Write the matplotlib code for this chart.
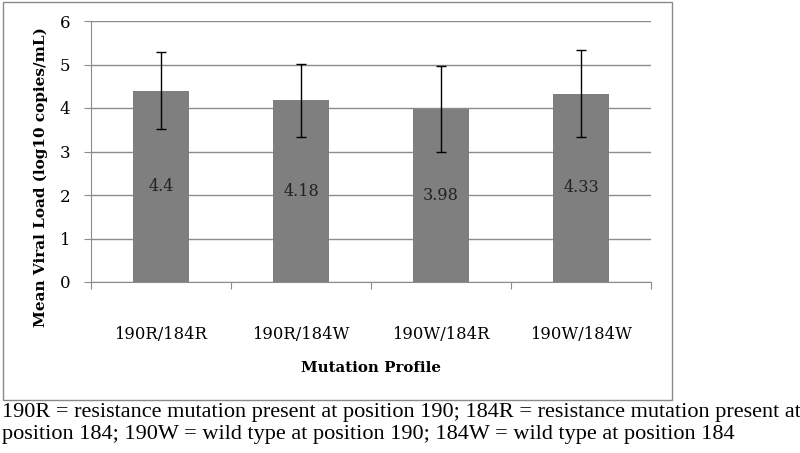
import numpy as np
import matplotlib
matplotlib.use("Agg")
from matplotlib import pyplot as plt
from matplotlib.patches import Rectangle

profiles = ["190R/184R", "190R/184W", "190W/184R", "190W/184W"]
means = [4.4, 4.18, 3.98, 4.33]
errors = [0.88, 0.84, 0.99, 1.0]
labels = ["4.4", "4.18", "3.98", "4.33"]
yticks = [0, 1, 2, 3, 4, 5, 6]

caption = ("190R = resistance mutation present at position 190; 184R = resistance mutation present at\n"
           "position 184; 190W = wild type at position 190; 184W = wild type at position 184")


def main():
    fig = plt.figure(figsize=(8, 4.53), dpi=100)
    W, H = 800, 453

    # outer frame round the chart
    fig.patches.append(Rectangle((3 / W, 1 - 400 / H), 669 / W, 398 / H,
                                 transform=fig.transFigure, fill=False,
                                 edgecolor="#8a8a8a", linewidth=1))

    ax = fig.add_axes([91 / W, 1 - 282 / H, 560 / W, 261 / H])
    x = np.arange(len(profiles))
    ax.bar(x, means, width=0.4, color="#7f7f7f", zorder=3)
    ax.errorbar(x, means, yerr=errors, fmt="none", ecolor="black",
                elinewidth=1, capsize=3.3, capthick=1, zorder=4)
    for xi, m, lab in zip(x, means, labels):
        ax.text(xi, m / 2, lab, ha="center", va="center", fontsize=11.5,
                family="DejaVu Serif", color="#222222", zorder=5)

    ax.set_xlim(-0.5, 3.5)
    ax.set_ylim(0, 6)
    ax.set_yticks(yticks)
    ax.grid(axis="y", color="#8c8c8c", linewidth=1, zorder=0)

    ax.set_xticks(np.arange(-0.5, 4, 1))
    ax.set_xticklabels([])
    ax.set_xticks(x, minor=True)
    ax.set_xticklabels(profiles, minor=True, family="DejaVu Serif", fontsize=11.8)
    ax.tick_params(axis="x", which="major", length=5, color="#8c8c8c")
    ax.tick_params(axis="x", which="minor", length=0, pad=32)
    ax.tick_params(axis="y", length=5, color="#8c8c8c", pad=10, labelsize=12)
    for t in ax.get_yticklabels():
        t.set_family("DejaVu Serif")

    for s in ["top", "right"]:
        ax.spines[s].set_visible(False)
    ax.spines["left"].set_color("#8c8c8c")
    ax.spines["bottom"].set_color("#8c8c8c")

    ax.set_xlabel("Mutation Profile", family="DejaVu Serif", fontweight="bold",
                  fontsize=10.8)
    ax.xaxis.set_label_coords(0.5, -(368 - 282) / 261, transform=ax.transAxes)
    ax.xaxis.label.set_va("center")
    ax.set_ylabel("Mean Viral Load (log10 copies/mL)", family="DejaVu Serif",
                  fontweight="bold", fontsize=11)
    ax.yaxis.set_label_coords(-(91 - 41) / 560, (282 - 177) / 261, transform=ax.transAxes)
    ax.yaxis.label.set_va("center")

    fig.text(2 / W, 1 - 403 / H, caption, ha="left", va="top",
             family="Liberation Serif", fontsize=16, linespacing=1.2)

    fig.savefig("out.png", dpi=100)


if __name__ == "__main__":
    main()
